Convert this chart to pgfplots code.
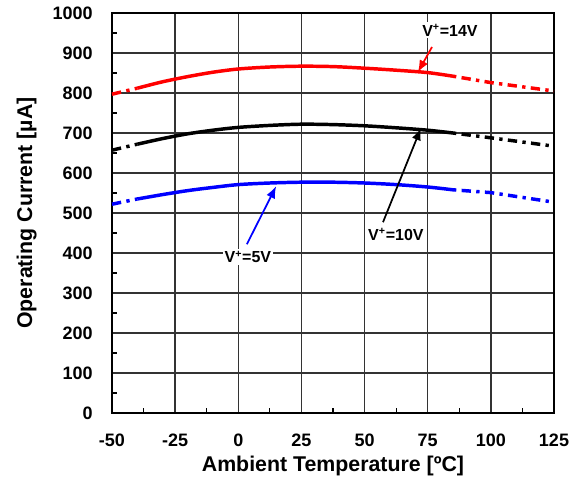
\documentclass[border=0pt]{standalone}
\usepackage{fontspec}
\setmainfont{Liberation Sans}
\usepackage{pgfplots}
\pgfplotsset{compat=1.18}
\usetikzlibrary{arrows.meta}
\begin{document}
\begin{tikzpicture}
\begin{axis}[
  at={(0,0)}, anchor=south west,
  scale only axis, width=331.5pt, height=300pt,
  xmin=-50, xmax=125, ymin=0, ymax=1000,
  xtick={-50,-25,...,125}, ytick={0,100,...,1000},
  minor x tick num=1, minor y tick num=1,
  xtick pos=left, ytick pos=left,
  tick align=inside,
  major tick length=0pt, minor tick length=4pt,
  grid=major,
  major grid style={black!80, line width=1pt},
  minor tick style={black, line width=0.8pt},
  axis line style={black, line width=1.7pt},
  /pgf/number format/assume math mode=true,
  /pgf/number format/1000 sep={},
  ticklabel style={font=\fontsize{13.5}{14}\selectfont\bfseries},
  xticklabel style={yshift=-12pt},
  yticklabel style={xshift=-11pt},
  label style={font=\fontsize{16}{17}\selectfont\bfseries},
  xlabel={Ambient Temperature [ºC]},
  ylabel={Operating Current [µA]},
  ylabel style={yshift=5pt},
  clip=false,
]
% red 14V
\addplot[red, line width=2.6pt, smooth] coordinates {(-40,812) (-30,828) (-20,841) (-10,852) (0,860) (12.5,865) (25,867) (37.5,866) (50,862) (62.5,857) (75,851) (85,842)};
\addplot[red, line width=2.6pt, dash pattern=on 7pt off 4pt on 2.5pt off 4pt] coordinates {(-50,797) (-40,812)};
\addplot[red, line width=2.6pt, dash pattern=on 2.5pt off 4pt on 7pt off 4pt] coordinates {(85,842) (100,826) (125,805)};
% black 10V
\addplot[black, line width=2.6pt, smooth] coordinates {(-40,672) (-30,686) (-20,698) (-10,707) (0,714) (12.5,719) (25,722) (37.5,721) (50,718) (62.5,713) (75,707) (85,700)};
\addplot[black, line width=2.6pt, dash pattern=on 7pt off 4pt on 2.5pt off 4pt] coordinates {(-50,657) (-40,672)};
\addplot[black, line width=2.6pt, dash pattern=on 2.5pt off 4pt on 7pt off 4pt] coordinates {(85,700) (100,688) (125,667)};
% blue 5V
\addplot[blue, line width=2.6pt, smooth] coordinates {(-40,535) (-30,546) (-20,556) (-10,564) (0,571) (12.5,575) (25,577) (37.5,577) (50,575) (62.5,571) (75,565) (85,558)};
\addplot[blue, line width=2.6pt, dash pattern=on 7pt off 4pt on 2.5pt off 4pt] coordinates {(-50,522) (-40,535)};
\addplot[blue, line width=2.6pt, dash pattern=on 2.5pt off 4pt on 7pt off 4pt] coordinates {(85,558) (100,551) (125,527)};
% annotations
\node[fill=white, inner sep=1.5pt, font=\fontsize{12}{13}\selectfont\bfseries] at (axis cs:83.8,957) {V\textsuperscript{+}=14V};
\draw[red, line width=1.3pt, -{Latex[length=9pt,width=7pt]}] (axis cs:76.7,915) -- (axis cs:71.1,852);
\node[fill=white, inner sep=1.5pt, font=\fontsize{12}{13}\selectfont\bfseries] at (axis cs:62.4,447) {V\textsuperscript{+}=10V};
\draw[black, line width=1.3pt, -{Latex[length=9pt,width=7pt]}] (axis cs:57.3,477) -- (axis cs:72.3,712);
\node[fill=white, inner sep=1.5pt, font=\fontsize{12}{13}\selectfont\bfseries] at (axis cs:3.8,390) {V\textsuperscript{+}=5V};
\draw[blue, line width=1.3pt, -{Latex[length=9pt,width=7pt]}] (axis cs:3.4,422) -- (axis cs:15,567);
\end{axis}
\pgfresetboundingbox
\useasboundingbox (-84pt,-55.5pt) rectangle (347.25pt,309.75pt);
\end{tikzpicture}
\end{document}
